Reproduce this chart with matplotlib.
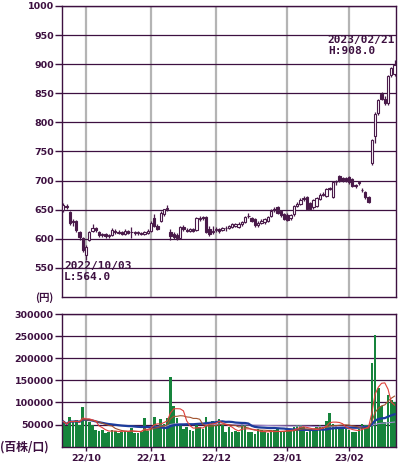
import matplotlib
matplotlib.use("Agg")
import matplotlib.pyplot as plt
import numpy as np
import pandas as pd

# ---------------- data ----------------
opens = [650, 657, 646, 630, 630, 612, 601, 573, 598, 614,
         618, 612, 606, 608, 605, 606, 614, 612, 611, 609,
         613, 611, 611, 610, 610, 608, 610, 613, 636, 622,
         630, 642, 652, 612, 609, 606, 602, 621, 615, 614,
         616, 615, 634, 637, 637, 617, 612, 615, 616, 615,
         618, 618, 620, 622, 621, 626, 629, 639, 636, 634,
         624, 627, 628, 631, 639, 649, 654, 647, 642, 641,
         635, 642, 657, 660, 668, 671, 662, 654, 656, 668,
         675, 674, 686, 672, 697, 708, 705, 704, 706, 703,
         691, 696, 684, 680, 671, 730, 776, 816, 848, 841,
         833, 882, 884]
highs = [662, 660, 648, 634, 632, 614, 603, 590, 614, 625,
         621, 614, 610, 610, 608, 618, 616, 615, 614, 617,
         615, 620, 614, 613, 612, 613, 616, 630, 643, 626,
         647, 652, 658, 616, 612, 610, 622, 623, 618, 618,
         619, 638, 639, 640, 640, 622, 622, 620, 618, 621,
         622, 624, 627, 627, 628, 631, 640, 644, 638, 636,
         630, 634, 636, 639, 651, 655, 656, 650, 645, 644,
         643, 658, 663, 670, 674, 673, 664, 669, 672, 678,
         680, 688, 689, 699, 701, 710, 707, 706, 708, 705,
         694, 700, 688, 682, 673, 772, 818, 840, 852, 845,
         882, 896, 908]
lows = [646, 651, 624, 622, 612, 598, 578, 564, 596, 611,
        612, 603, 603, 602, 601, 604, 609, 608, 606, 607,
        608, 602, 607, 607, 606, 606, 608, 612, 620, 615,
        628, 640, 648, 598, 600, 598, 600, 614, 611, 612,
        612, 614, 630, 633, 610, 604, 608, 612, 610, 613,
        614, 616, 618, 620, 619, 622, 627, 636, 628, 620,
        620, 625, 626, 629, 637, 646, 643, 638, 632, 630,
        632, 640, 654, 658, 665, 650, 650, 652, 654, 666,
        673, 672, 683, 670, 693, 698, 698, 698, 695, 689,
        688, 692, 680, 669, 661, 727, 765, 812, 838, 830,
        830, 878, 880]
closes = [658, 655, 627, 628, 615, 603, 581, 586, 612, 618,
          615, 606, 608, 604, 606, 615, 612, 610, 609, 614,
          610, 612, 610, 611, 608, 611, 614, 627, 622, 617,
          645, 651, 653, 604, 603, 601, 620, 617, 613, 616,
          614, 636, 636, 636, 612, 609, 614, 617, 614, 618,
          619, 622, 625, 625, 626, 629, 638, 640, 631, 623,
          627, 630, 634, 637, 648, 651, 645, 641, 634, 632,
          641, 656, 660, 667, 670, 652, 652, 667, 670, 675,
          677, 686, 686, 697, 697, 700, 701, 700, 697, 691,
          691, 697, 683, 671, 663, 770, 815, 838, 841, 834,
          879, 893, 899]
volumes = [57000, 46000, 68000, 56000, 61000, 50000, 90000, 58000, 56000, 49000,
           38000, 35000, 38000, 32000, 34000, 38000, 36000, 32000, 34000, 36000,
           34000, 42000, 30000, 30000, 34000, 64000, 36000, 46000, 68000, 45000,
           62000, 52000, 64000, 158000, 92000, 64000, 50000, 41000, 45000, 38000,
           36000, 52000, 45000, 40000, 67000, 48000, 58000, 52000, 63000, 48000,
           33000, 44000, 33000, 36000, 33000, 52000, 48000, 33000, 33000, 28000,
           40000, 37000, 33000, 30000, 33000, 37000, 40000, 33000, 33000, 37000,
           40000, 45000, 48000, 48000, 44000, 33000, 37000, 37000, 44000, 48000,
           44000, 58000, 76000, 52000, 48000, 40000, 44000, 40000, 37000, 33000,
           33000, 40000, 52000, 48000, 50000, 190000, 252000, 133000, 92000, 55000,
           118000, 106000, 100000]

month_tick_idx = [7, 27, 47, 69, 88]
month_labels = ["22/10", "22/11", "22/12", "23/01", "23/02"]
price_ticks = [550, 600, 650, 700, 750, 800, 850, 900, 950, 1000]
vol_ticks = [50000, 100000, 150000, 200000, 250000, 300000]
low_label = ("2022/10/03", "L:564.0")
high_label = ("2023/02/21", "H:908.0")

# ---------------- style ----------------
DARK = "#3d1040"
EDGE = "#4a1a4a"
GRID_H = "#3d1040"
GRID_V = "#b4b4b4"
GREEN = "#16843c"

o = np.array(opens, float); h = np.array(highs, float)
l = np.array(lows, float); c = np.array(closes, float)
v = np.array(volumes, float)
x = np.arange(len(o))

fig = plt.figure(figsize=(4.0, 4.68), dpi=100)
fig.patch.set_facecolor("white")
ax1 = fig.add_axes([0.155, 0.3654, 0.835, 0.6218])
ax2 = fig.add_axes([0.155, 0.0455, 0.835, 0.2835])

for ax in (ax1, ax2):
    ax.set_xlim(-0.4, 102.45)
    for s in ax.spines.values():
        s.set_color(DARK)
        s.set_linewidth(1.0)
    ax.set_axisbelow(True)
    for xi in month_tick_idx:
        ax.axvline(xi, color=GRID_V, lw=1.6, zorder=0)
    ax.tick_params(axis="y", colors=DARK, length=5, width=1.0, pad=1,
                   labelsize=6.8)

# price panel
ax1.set_ylim(500, 1000)
ax1.set_yticks(price_ticks)
ax1.set_yticklabels([str(t) for t in price_ticks], fontweight="bold",
                    color=DARK, fontsize=6.8)
for yv in price_ticks:
    ax1.axhline(yv, color=GRID_H, lw=0.9, zorder=0.5)
ax1.set_xticks([])

up = c >= o
body_lo = np.minimum(o, c)
body_h = np.maximum(np.abs(c - o), 0.8)
ax1.vlines(x, l, h, color=EDGE, lw=0.9, zorder=2)
ax1.bar(x[up], body_h[up], bottom=body_lo[up], width=0.72,
        facecolor="white", edgecolor=EDGE, linewidth=0.8, zorder=3)
ax1.bar(x[~up], body_h[~up], bottom=body_lo[~up], width=0.72,
        facecolor=EDGE, edgecolor=EDGE, linewidth=0.8, zorder=3)

mono = dict(family="DejaVu Sans Mono", fontweight="bold", color=DARK,
            fontsize=8)
tr = ax1.get_yaxis_transform()
ax1.text(0.006, 553, low_label[0], transform=tr, ha="left", va="center", **mono)
ax1.text(0.006, 535, low_label[1], transform=tr, ha="left", va="center", **mono)
ax1.text(0.796, 941.5, high_label[0], transform=tr, ha="left", va="center", **mono)
ax1.text(0.796, 922.5, high_label[1], transform=tr, ha="left", va="center", **mono)

# volume panel
ax2.set_ylim(0, 300000)
ax2.set_yticks(vol_ticks)
ax2.set_yticklabels([str(t) for t in vol_ticks], fontweight="bold",
                    color=DARK, fontsize=6.8)
for yv in vol_ticks:
    ax2.axhline(yv, color=GRID_H, lw=0.9, zorder=0.5)
ax2.bar(x, v, width=0.8, color=GREEN, zorder=2)

vs = pd.Series(v)
ma5 = vs.rolling(5, min_periods=1).mean()
ma10 = vs.rolling(10, min_periods=1).mean()
ma25 = vs.rolling(25, min_periods=1).mean()
ma75 = vs.rolling(75, min_periods=1).mean()
ax2.plot(x, ma75, color="#a08ad0", lw=0.8, zorder=3)
ax2.plot(x, ma25, color="#1c3c9c", lw=1.6, zorder=4)
ax2.plot(x, ma10, color="#a0522d", lw=0.8, zorder=4)
ax2.plot(x, ma5, color="#e0403a", lw=0.8, zorder=5)

ax2.set_xticks(month_tick_idx)
ax2.set_xticklabels(month_labels, fontweight="bold", color=DARK, fontsize=6.8)
ax2.tick_params(axis="x", colors=DARK, length=3, width=1.0, pad=2)

cjk = ["Noto Sans CJK JP", "DejaVu Sans"]
fig.text(53 / 400, 1 - 297.5 / 468, "(円)", family=cjk, fontweight="bold",
         color=DARK, fontsize=7.5, ha="right", va="center")
fig.text(0.0, 1 - 447.5 / 468, "(百株/口)", family=cjk, fontweight="bold",
         color=DARK, fontsize=8.5, ha="left", va="center")

fig.savefig("out.png", dpi=100)
